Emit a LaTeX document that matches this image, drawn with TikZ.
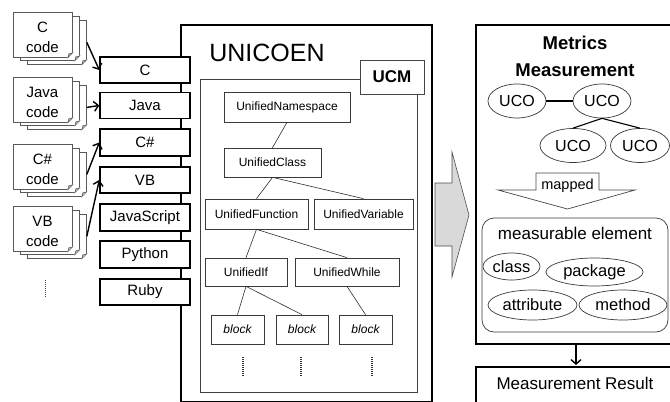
\documentclass[tikz,border=0pt]{standalone}
\usepackage{fontspec}
\setmainfont{Liberation Sans}
\usetikzlibrary{shapes.geometric,arrows.meta}

\definecolor{dotcol}{RGB}{80,35,40}

\tikzset{
    codepage/.style={draw=gray!70!black,fill=white,line width=0.8pt,inner sep=0pt,
        minimum width=59pt,minimum height=44pt,anchor=north west},
    codetext/.style={align=center,inner sep=0pt,font=\fontsize{15}{20}\selectfont},
    fold/.style={draw=gray!70!black,fill=gray!55,line width=0.5pt},
    langbox/.style={draw=black,fill=white,line width=1.4pt,inner sep=0pt,
        minimum width=90pt,minimum height=26pt,font=\fontsize{15}{18}\selectfont},
    ucmnode/.style={draw=gray!45!black,fill=white,line width=0.7pt,inner sep=0pt,
        minimum height=29pt,font=\fontsize{12}{14}\selectfont},
    blocknode/.style={ucmnode,minimum width=53pt,font=\fontsize{12}{14}\selectfont\itshape},
    treeline/.style={draw=gray!35!black,line width=0.6pt},
    dotline/.style={draw=dotcol,line width=1.3pt,dash pattern=on 1pt off 1pt},
    uco/.style={ellipse,draw=gray!45!black,fill=white,line width=0.7pt,inner sep=0pt,
        minimum width=58pt,minimum height=34pt,font=\fontsize{16}{18}\selectfont},
    elem/.style={ellipse,draw=gray!45!black,line width=0.7pt,inner sep=0pt,
        font=\fontsize{16.5}{18}\selectfont},
    feed/.style={line width=1.4pt,-{Straight Barb[length=4.5pt,width=10pt]}},
    bigbox/.style={draw=black,line width=2pt,inner sep=0pt,anchor=north west},
}

\begin{document}
\begin{tikzpicture}[x=1pt,y=-1pt]
    \useasboundingbox (0,0) rectangle (670,402);
    \clip (0,0) rectangle (670,402);

    \node[bigbox,minimum width=251pt,minimum height=377pt] (unicoen) at (180,24) {};
    \node[font=\fontsize{25}{28}\selectfont] (unititle) at (267,53) {UNICOEN};

    \node[draw=gray!50!black,line width=1pt,inner sep=0pt,anchor=north west,
        minimum width=217pt,minimum height=313pt] (ucm) at (200,79) {};
    \node[draw=gray!55!black,fill=white,line width=1pt,minimum width=64pt,minimum height=34pt,
        inner sep=0pt,font=\bfseries\fontsize{17}{20}\selectfont] (ucmlabel) at (392,77) {UCM};

    \node[ucmnode,minimum width=126pt,minimum height=30pt] (ns) at (287,107) {UnifiedNamespace};
    \node[ucmnode,minimum width=97pt] (cls) at (272.5,162.5) {UnifiedClass};
    \node[ucmnode,minimum width=103pt,minimum height=30pt] (fun) at (256.5,214) {UnifiedFunction};
    \node[ucmnode,minimum width=99pt,minimum height=30pt] (var) at (363.5,214) {UnifiedVariable};
    \node[ucmnode,minimum width=82pt,minimum height=28pt] (uif) at (246,272) {UnifiedIf};
    \node[ucmnode,minimum width=104pt,minimum height=28pt] (uwhile) at (347,272) {UnifiedWhile};
    \node[blocknode] (blka) at (237.5,329.5) {block};
    \node[blocknode,minimum width=52pt] (blkb) at (302,329.5) {block};
    \node[blocknode] (blkc) at (365.5,329.5) {block};

    \draw[treeline] (ns.south) -- (cls.north);
    \draw[treeline] (cls.south) -- (fun.north);
    \draw[treeline] (cls.south) -- (var.north);
    \draw[treeline] (fun.south) -- (uif.north);
    \draw[treeline] (fun.south) -- (uwhile.north);
    \draw[treeline] (uif.south) -- (blka.north);
    \draw[treeline] (uif.south) -- (blkb.north);
    \draw[treeline] (uwhile.south) -- (blkc.north);

    \foreach \x in {243,301,372}
        \draw[dotline] (\x,357) -- (\x,377);

    \node[langbox] (clang) at (145,70) {C};
    \node[langbox] (javalang) at (145,105.5) {Java};
    \node[langbox,minimum height=27pt] (cslang) at (145,142.5) {C\#};
    \node[langbox] (vblang) at (145,180) {VB};
    \node[langbox,minimum height=27pt] (jslang) at (145,217.5) {JavaScript};
    \node[langbox,minimum height=27pt] (pylang) at (145,254.5) {Python};
    \node[langbox] (rblang) at (145,292) {Ruby};

    \foreach \y/\lang/\nm in {12/C/c,77/Java/java,144/C\#/cs,206/VB/vb}{
        \node[codepage] (\nm-back) at (27,\y+8) {};
        \fill[white] (\nm-back.south east) -- ++(-5.5,0) -- ++(5.5,-5.5) -- cycle;
        \draw[fold] (\nm-back.south east) ++(-5,0) -- ++(5,-5) -- ++(-4,1) -- cycle;
        \node[codepage] (\nm-mid) at (20,\y+4) {};
        \fill[white] (\nm-mid.south east) -- ++(-5.5,0) -- ++(5.5,-5.5) -- cycle;
        \draw[fold] (\nm-mid.south east) ++(-5,0) -- ++(5,-5) -- ++(-4,1) -- cycle;
        \node[codepage,minimum height=45pt] (\nm-code) at (13,\y) {};
        \fill[white] (\nm-code.south east) -- ++(-5.5,0) -- ++(5.5,-5.5) -- cycle;
        \draw[fold] (\nm-code.south east) ++(-5,0) -- ++(5,-5) -- ++(-4,1) -- cycle;
        \node[codetext] (\nm-text) at (42.5,\y+25) {\lang\\code};
    }
    \draw[dotline,draw=gray!60!black,line width=1pt] (45,280) -- (45,298);

    \draw[feed] (c-back.east) -- (clang.west);
    \draw[feed] (java-back.east) -- (javalang.west);
    \draw[feed] (cs-back.east) -- (cslang.west);
    \draw[feed] (vb-back.east) -- (vblang.west);

    \filldraw[fill=gray!30,draw=gray!60!black,line width=0.6pt]
        (435,183) -- (452,183) -- (452,152) -- (469,215) -- (452,277) -- (452,246) -- (435,246) -- cycle;

    \node[bigbox,minimum width=200pt,minimum height=319pt] (metrics) at (475,24) {};
    \node[align=center,font=\bfseries\fontsize{18.5}{27}\selectfont] (mtitle) at (575,56) {Metrics\\Measurement};

    \node[uco] (ucoa) at (517,101) {UCO};
    \node[uco] (ucob) at (602,101) {UCO};
    \node[uco,minimum width=66pt] (ucoc) at (573,145.5) {UCO};
    \node[uco,minimum width=59pt] (ucod) at (640,145.5) {UCO};
    \draw[line width=1.1pt] (ucoa.east) -- (ucob.west);
    \draw[line width=1.1pt] (ucob.south) -- (ucoc.north);
    \draw[line width=1.1pt] (ucob.south) -- (ucod.north);

    \node[font=\fontsize{14.5}{16}\selectfont] (mapped) at (567.5,186) {mapped};
    \draw[draw=gray!55!black,line width=0.7pt]
        (536,173) -- (599,173) -- (599,190) -- (635,190) -- (567.5,209)
        -- (498,190) -- (536,190) -- cycle;

    \draw[draw=gray!45!black,line width=0.7pt,rounded corners=12pt] (482,218) rectangle (668,332);
    \node[font=\fontsize{17}{20}\selectfont] (meastitle) at (575,233) {measurable element};
    \node[elem,minimum width=57pt,minimum height=27pt] (eclass) at (511.5,266.5) {class};
    \node[elem,minimum width=97pt,minimum height=28pt] (epackage) at (594.5,272) {package};
    \node[elem,minimum width=89pt,minimum height=30pt] (eattr) at (532.5,305) {attribute};
    \node[elem,minimum width=88pt,minimum height=30pt] (emethod) at (623,305) {method};

    \node[bigbox,minimum width=200pt,minimum height=60pt] (result) at (475,366) {};
    \node[font=\fontsize{17}{20}\selectfont] (resulttext) at (575,383) {Measurement Result};
    \draw[feed,shorten >=1pt] (metrics.south) -- (result.north);
\end{tikzpicture}
\end{document}
